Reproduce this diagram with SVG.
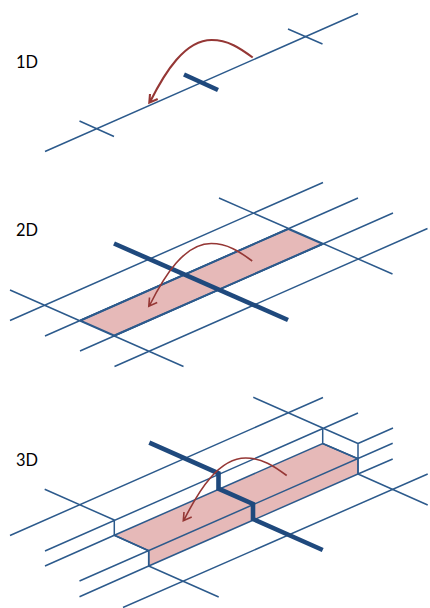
<svg xmlns="http://www.w3.org/2000/svg" width="430" height="608" viewBox="0 0 430 608">
<style>
.l{fill:none;stroke:#2c5a8c;stroke-width:1.5;stroke-linecap:butt;stroke-linejoin:round}
.t{fill:none;stroke:#1f497d;stroke-width:4.6;stroke-linejoin:miter}
.p{fill:#e6b9b8;stroke:#2c5a8c;stroke-width:1.5}
.a{fill:none;stroke:#953735;stroke-linejoin:miter}
.x{font-family:"Lato","Liberation Sans",sans-serif;font-size:17.5px;fill:#000}
</style>
<defs>
<path id="arc" d="M252.7 57.5C240 48 228 40 211.7 40C185 40 165 72 150 102M150 94L149.3 102.7L157.7 99"/>
</defs>
<rect width="430" height="608" fill="#fff"/>
<g id="panel-1d">
<text class="x" x="16" y="67.5" textLength="22" lengthAdjust="spacingAndGlyphs">1D</text>
<g id="connectors-1d">
<path class="l" d="M45 151.5L358 13.5M79.5 121L114 136.5M288 29L322.5 44"/>
<path class="t" d="M184 74.5L218 90"/>
<use href="#arc" class="a" style="stroke-width:2.1"/>
</g>
</g>
<g id="panel-2d">
<text class="x" x="16" y="236" textLength="22" lengthAdjust="spacingAndGlyphs">2D</text>
<g id="connectors-2d">
<path class="l" d="M10 320.5L323 182.5M45 336L358 198M80 351L393 213M114.5 366.5L427.5 228.5M10 290L183.5 366.5M219 198L392.5 274"/>
<path class="p" d="M80.5 320.5L288 229L322.5 244L114.5 335.5Z"/>
<path class="l" d="M80.5 320.5L288 229M114.5 335.5L322.5 244" style="stroke-width:2"/>
<path class="t" d="M114 243.5L288 320"/>
<use href="#arc" class="a" transform="translate(-0.5 203.5)" style="stroke-width:1.6"/>
</g>
</g>
<g id="panel-3d">
<text class="x" x="16" y="466" textLength="22" lengthAdjust="spacingAndGlyphs">3D</text>
<g id="connectors-3d">
<path class="p" d="M114.3 535.3L322.7 443.5L358 458.7L358 474L148.7 566L148.7 550.7Z"/>
<path class="l" d="M10 535.5L323 397.5M45 551L358 413M45 566L114.3 535.3M358 443.5L393 428M79.5 581L392.7 443.3M79.5 596.7L148.7 566M358 474L392.7 459M123 607.5L427.7 474M44.7 489.3L114.3 520V535.3L148.7 550.7V566L218.7 597M253.3 397.3L322.7 428V443.5L358 458.7M322.7 428L358 443.5V474L427.7 505"/>
<path class="t" d="M149.3 442.7L218.5 473.3V488.7L253 504V519L322.7 550"/>
<use href="#arc" class="a" transform="translate(34 418)" style="stroke-width:1.6"/>
</g>
</g>
</svg>
